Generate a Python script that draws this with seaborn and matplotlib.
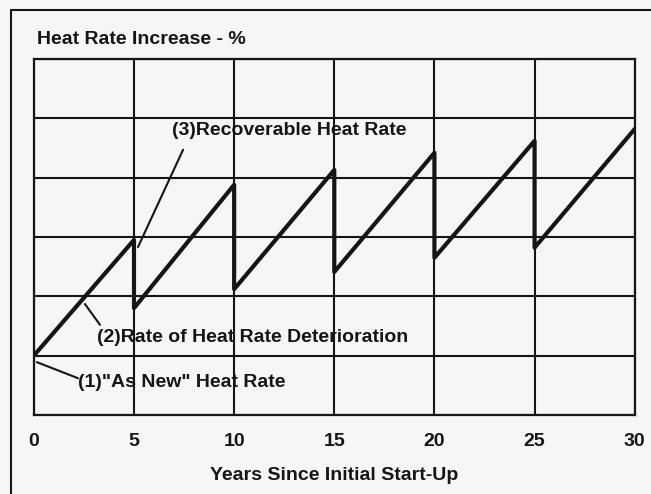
import numpy as np
import pandas as pd
import matplotlib
matplotlib.use('Agg')
import matplotlib.pyplot as plt
from matplotlib.lines import Line2D
import seaborn as sns

# --- Data (heat rate in grid units, 6 rows) ---
years = [0, 5, 5, 10, 10, 15, 15, 20, 20, 25, 25, 30]
heat_rate = [1.0, 2.95, 1.8, 3.88, 2.12, 4.13, 2.41, 4.42, 2.65, 4.62, 2.82, 4.82]
x_ticks = [0, 5, 10, 15, 20, 25, 30]
y_grid = [0, 1, 2, 3, 4, 5, 6]

df = pd.DataFrame({'year': years, 'heat': heat_rate})

sns.set_style('white')
plt.rcParams['font.family'] = ['Liberation Sans', 'DejaVu Sans']

ink = '#151515'
paper = '#f6f6f6'
fs = 14

fig = plt.figure(figsize=(6.51, 4.94), dpi=100, facecolor=paper)
ax = fig.add_axes([0.052, 0.16, 0.923, 0.7206])
ax.set_facecolor(paper)

sns.lineplot(data=df, x='year', y='heat', estimator=None, sort=False,
             color=ink, linewidth=3.0, ax=ax)

ax.set_xlim(0, 30)
ax.set_ylim(0, 6)
ax.set_xticks(x_ticks)
ax.set_yticks(y_grid)
ax.set_yticklabels([])
ax.grid(True, color=ink, linewidth=1.5)
for s in ax.spines.values():
    s.set_color(ink)
    s.set_linewidth(1.6)
ax.tick_params(axis='both', length=0)
ax.tick_params(axis='x', pad=13, labelsize=fs, colors=ink)
for lbl in ax.get_xticklabels():
    lbl.set_fontweight('bold')
ax.set_xlabel('Years Since Initial Start-Up', fontsize=fs, fontweight='bold',
              color=ink, labelpad=12)
ax.set_ylabel('')

fig.text(37 / 651, 1 - 40 / 494, 'Heat Rate Increase - %', fontsize=fs,
         fontweight='bold', color=ink, ha='left', va='center')

# --- Annotations ---
lead = dict(arrowstyle='-', lw=1.5, color=ink, shrinkA=0, shrinkB=0)
ax.annotate('', xy=(5.2, 2.83), xytext=(7.45, 4.47), arrowprops=lead)
ax.text(6.9, 4.8, '(3)Recoverable Heat Rate', fontsize=fs, fontweight='bold',
        color=ink, ha='left', va='center')

ax.annotate('', xy=(2.55, 1.87), xytext=(3.3, 1.52), arrowprops=lead)
ax.text(3.15, 1.3, '(2)Rate of Heat Rate Deterioration', fontsize=fs,
        fontweight='bold', color=ink, ha='left', va='center')

ax.annotate('', xy=(0.15, 0.89), xytext=(2.2, 0.62), arrowprops=lead)
ax.text(2.2, 0.54, '(1)"As New" Heat Rate', fontsize=fs, fontweight='bold',
        color=ink, ha='left', va='center')

# scan border (top and left)
fig.add_artist(Line2D([11 / 651, 11 / 651], [0, 1 - 10 / 494], color=ink, lw=1.5,
                      transform=fig.transFigure))
fig.add_artist(Line2D([11 / 651, 1.01], [1 - 10 / 494, 1 - 10 / 494], color=ink, lw=1.5,
                      transform=fig.transFigure))

fig.savefig('out.png', dpi=100, facecolor=paper)
